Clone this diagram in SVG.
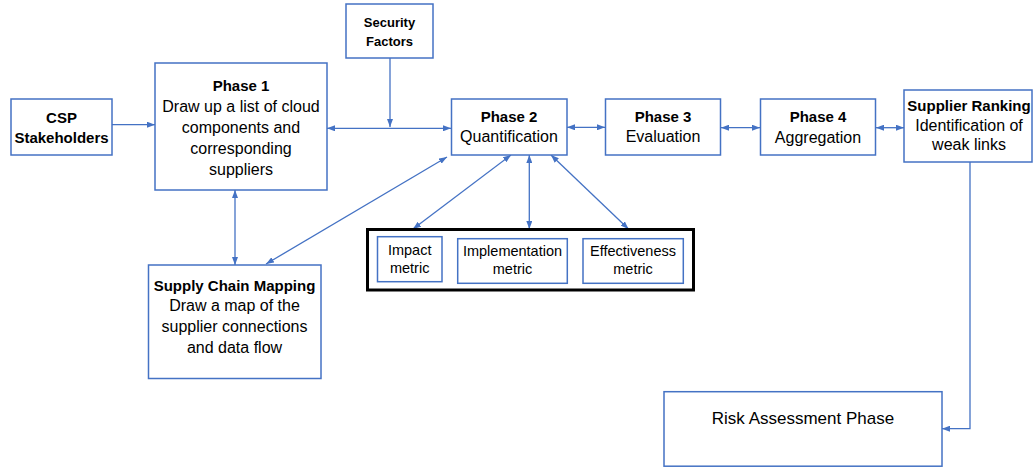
<svg xmlns="http://www.w3.org/2000/svg" width="1033" height="468" viewBox="0 0 1033 468">
  <style>
    .box { fill: #ffffff; stroke: #4472C4; stroke-width: 1.5; }
    .frame { fill: #ffffff; stroke: #000000; stroke-width: 3; }
    .link { fill: none; stroke: #4472C4; stroke-width: 1.3; }
    .one { marker-end: url(#head); }
    .two { marker-start: url(#head); marker-end: url(#head); }
    text { font-family: "Liberation Sans", Arial, sans-serif; fill: #000000; text-anchor: middle; }
    .t { font-weight: bold; font-size: 15px; }
    .b { font-size: 16px; }
    .s { font-size: 14.5px; }
    .st { font-weight: bold; font-size: 13px; }
  </style>
  <defs>
    <marker id="head" viewBox="0 0 8 6" refX="8" refY="3" markerWidth="8" markerHeight="6" markerUnits="userSpaceOnUse" orient="auto-start-reverse">
      <path d="M0,0 L8,3 L0,6 z" fill="#4472C4"/>
    </marker>
  </defs>
  <rect width="1033" height="468" fill="#ffffff"/>

  <!-- connectors -->
  <g id="connectors">
    <line class="link one" x1="112" y1="124.7" x2="155" y2="124.7"/>
    <line class="link two" x1="327" y1="128.3" x2="451" y2="128.3"/>
    <line class="link one" x1="390" y1="58" x2="390" y2="127"/>
    <line class="link two" x1="567" y1="127.3" x2="605" y2="127.3"/>
    <line class="link two" x1="721" y1="127.7" x2="760" y2="127.7"/>
    <line class="link two" x1="876" y1="127.7" x2="904" y2="127.7"/>
    <line class="link two" x1="235" y1="190" x2="235" y2="265"/>
    <line class="link two" x1="447" y1="157" x2="266" y2="264"/>
    <line class="link two" x1="511" y1="155" x2="413" y2="229"/>
    <line class="link two" x1="529.3" y1="155" x2="529.3" y2="229"/>
    <line class="link two" x1="551" y1="155" x2="628.5" y2="229"/>
    <polyline class="link one" points="970,162 970,428.7 942,428.7"/>
  </g>

  <!-- nodes -->
  <g id="csp">
    <rect class="box" x="11" y="99" width="101" height="56"/>
    <text class="t" x="61.5" y="122.7">CSP</text>
    <text class="t" x="61.5" y="143">Stakeholders</text>
  </g>

  <g id="phase1">
    <rect class="box" x="155" y="63" width="172" height="127"/>
    <text class="t" x="241" y="90.7">Phase 1</text>
    <text class="b" x="241" y="111.7">Draw up a list of cloud</text>
    <text class="b" x="241" y="132.7">components and</text>
    <text class="b" x="241" y="154">corresponding</text>
    <text class="b" x="241" y="175">suppliers</text>
  </g>

  <g id="security">
    <rect class="box" x="346" y="4" width="87" height="54"/>
    <text class="st" x="389.5" y="27.3">Security</text>
    <text class="st" x="389.5" y="45.7">Factors</text>
  </g>

  <g id="phase2">
    <rect class="box" x="451.5" y="99" width="115.5" height="56"/>
    <text class="t" x="509" y="121.7">Phase 2</text>
    <text class="b" x="509" y="142.3">Quantification</text>
  </g>

  <g id="phase3">
    <rect class="box" x="605.5" y="99" width="115" height="56"/>
    <text class="t" x="663" y="121.7">Phase 3</text>
    <text class="b" x="663" y="142.3">Evaluation</text>
  </g>

  <g id="phase4">
    <rect class="box" x="760.5" y="99" width="115" height="56"/>
    <text class="t" x="818" y="122.3">Phase 4</text>
    <text class="b" x="818" y="142.7">Aggregation</text>
  </g>

  <g id="ranking">
    <rect class="box" x="904" y="90" width="128" height="72"/>
    <text class="t" x="969" y="111">Supplier Ranking</text>
    <text class="b" x="969" y="130.5">Identification of</text>
    <text class="b" x="969" y="150">weak links</text>
  </g>

  <g id="mapping">
    <rect class="box" x="148.5" y="265" width="172.5" height="113.5"/>
    <text class="t" x="234.5" y="291">Supply Chain Mapping</text>
    <text class="b" x="234.5" y="311">Draw a map of the</text>
    <text class="b" x="234.5" y="331.7">supplier connections</text>
    <text class="b" x="234.5" y="353">and data flow</text>
  </g>

  <g id="metrics">
    <rect class="frame" x="367.5" y="229.5" width="326" height="60.5"/>
    <g id="impact">
      <rect class="box" x="377.5" y="236.7" width="64.5" height="45"/>
      <text class="s" x="409.7" y="255">Impact</text>
      <text class="s" x="409.7" y="273.3">metric</text>
    </g>
    <g id="implementation">
      <rect class="box" x="457.7" y="238.7" width="109.6" height="44.6"/>
      <text class="s" x="512.5" y="256">Implementation</text>
      <text class="s" x="512.5" y="274">metric</text>
    </g>
    <g id="effectiveness">
      <rect class="box" x="583" y="238.7" width="100.3" height="44.6"/>
      <text class="s" x="633" y="256">Effectiveness</text>
      <text class="s" x="633" y="274">metric</text>
    </g>
  </g>

  <g id="risk">
    <rect class="box" x="664" y="391.7" width="278" height="74.5"/>
    <text x="803" y="424" style="font-size:17px">Risk Assessment Phase</text>
  </g>
</svg>
